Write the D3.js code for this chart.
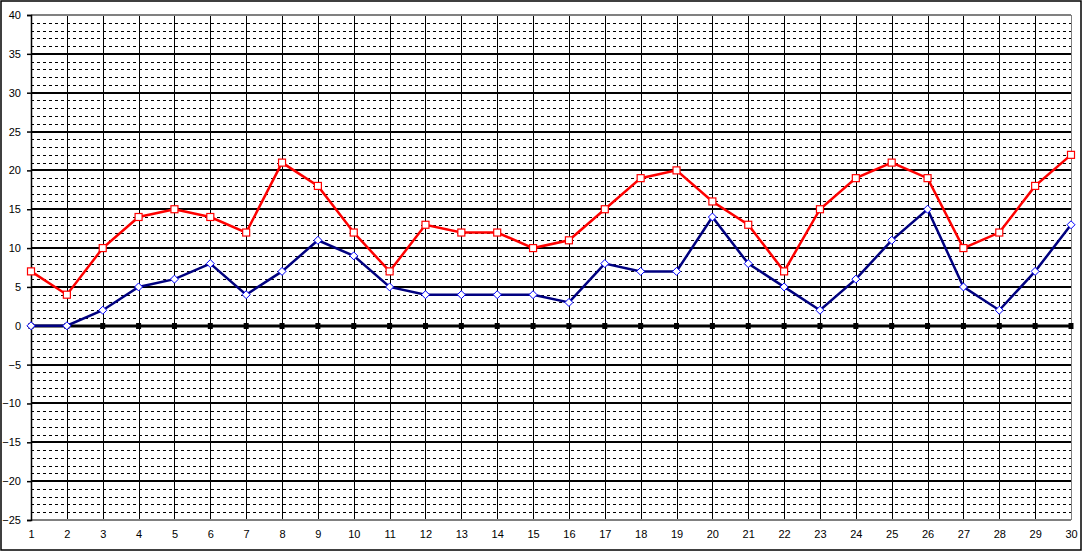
<!DOCTYPE html>
<html><head><meta charset="utf-8">
<script src="https://cdn.jsdelivr.net/npm/d3@7"></script>
<style>body{margin:0;background:#fff}svg{display:block}</style>
</head><body>
<script>
const categories = d3.range(1, 31);
const redValues = [7,4,10,14,15,14,12,21,18,12,7,13,12,12,10,11,15,19,20,16,13,7,15,19,21,19,10,12,18,22];
const blueValues = [0,0,2,5,6,8,4,7,11,9,5,4,4,4,4,3,8,7,7,14,8,5,2,6,11,15,5,2,7,13];
const yTicks = d3.range(-25, 41, 5);
const yMinor = d3.range(-25, 41, 1).filter(v => v % 5 !== 0);

const W = 1083, H = 552;
const svg = d3.select("body").append("svg").attr("width", W).attr("height", H);
svg.append("rect").attr("x", 1).attr("y", 1).attr("width", W - 3).attr("height", H - 3)
  .attr("fill", "#fff").attr("stroke", "#000").attr("stroke-width", 1.5);

const x = d3.scalePoint().domain(categories).range([31, 1071]);
const y = d3.scaleLinear().domain([-25, 40]).range([520, 15]);
const L = 31, R = 1071;

const g = svg.append("g");
// minor dashed
g.selectAll(".minor").data(yMinor).join("line")
  .attr("x1", L).attr("x2", R).attr("y1", d => Math.round(y(d)) + 0.5).attr("y2", d => Math.round(y(d)) + 0.5)
  .attr("stroke", "#000").attr("stroke-width", 1).attr("stroke-dasharray", "3,3");
// vertical lines
g.selectAll(".vert").data(categories.slice(1, -1)).join("line")
  .attr("x1", d => Math.round(x(d)) + 0.5).attr("x2", d => Math.round(x(d)) + 0.5)
  .attr("y1", 15).attr("y2", 520).attr("stroke", "#000").attr("stroke-width", 1);
// major lines
g.selectAll(".major").data(yTicks.filter(v => v !== 40 && v !== -25 && v !== 0)).join("line")
  .attr("x1", L).attr("x2", R).attr("y1", d => Math.round(y(d))).attr("y2", d => Math.round(y(d)))
  .attr("stroke", "#000").attr("stroke-width", 2);
// plot border
g.append("line").attr("x1", L).attr("x2", R).attr("y1", 15).attr("y2", 15).attr("stroke", "#808080").attr("stroke-width", 2);
g.append("line").attr("x1", R + 0.5).attr("x2", R + 0.5).attr("y1", 15).attr("y2", 520).attr("stroke", "#808080").attr("stroke-width", 1);
g.append("line").attr("x1", L).attr("x2", R).attr("y1", 520).attr("y2", 520).attr("stroke", "#808080").attr("stroke-width", 2);

// y axis
const yAxis = d3.axisLeft(y).tickValues(yTicks).tickSize(4).tickPadding(6);
const ya = svg.append("g").attr("transform", `translate(${L},0)`).call(yAxis);
ya.select(".domain").attr("stroke", "#000").attr("stroke-width", 1.5);
ya.selectAll(".tick line").attr("stroke", "#000").attr("stroke-width", 1.5);
ya.selectAll("text").attr("font-family", "Arial, Liberation Sans, sans-serif").attr("font-size", 11).attr("fill", "#000");

// zero line (category axis)
const y0 = Math.round(y(0));
svg.append("line").attr("x1", L).attr("x2", R).attr("y1", y0).attr("y2", y0).attr("stroke", "#000").attr("stroke-width", 3);
svg.selectAll(".zt").data(categories).join("rect")
  .attr("x", d => x(d) - 2.5).attr("y", y0 - 3).attr("width", 5).attr("height", 6).attr("fill", "#000");

// x labels
const xAxis = d3.axisBottom(x).tickSize(0).tickPadding(0);
const xa = svg.append("g").attr("transform", `translate(0,530)`).call(xAxis);
xa.select(".domain").remove();
xa.selectAll("text").attr("font-family", "Arial, Liberation Sans, sans-serif").attr("font-size", 11).attr("fill", "#000");

// lines
const line = vals => d3.line().x((d, i) => x(categories[i])).y(d => y(d))(vals);
svg.append("path").attr("d", line(blueValues)).attr("fill", "none").attr("stroke", "#000080").attr("stroke-width", 2.5);
svg.append("path").attr("d", line(redValues)).attr("fill", "none").attr("stroke", "#ff0000").attr("stroke-width", 2.5);

svg.selectAll(".bm").data(blueValues).join("path")
  .attr("d", (d, i) => { const cx = x(categories[i]), cy = y(d), r = 4; return `M${cx},${cy - r}L${cx + r},${cy}L${cx},${cy + r}L${cx - r},${cy}Z`; })
  .attr("fill", "#fff").attr("stroke", "#0000ff").attr("stroke-width", 1);
svg.selectAll(".rm").data(redValues).join("rect")
  .attr("x", (d, i) => x(categories[i]) - 3.5).attr("y", d => y(d) - 3.5).attr("width", 7).attr("height", 7)
  .attr("fill", "#fff").attr("stroke", "#ff0000").attr("stroke-width", 1.2);
</script>
</body></html>
